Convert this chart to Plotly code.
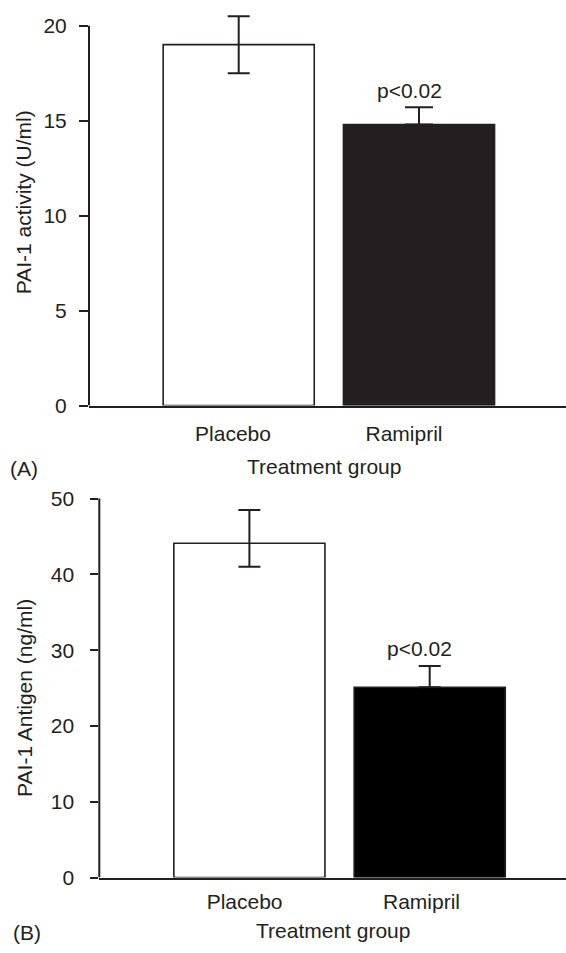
import plotly.graph_objects as go

# ---------------- data ----------------
groups = ["Placebo", "Ramipril"]
activity = [19.0, 14.8]            # PAI-1 activity (U/ml)
activity_err_plus = [1.5, 0.9]
activity_err_minus = [1.5, 0.0]
antigen = [44.1, 25.1]             # PAI-1 Antigen (ng/ml)
antigen_err_plus = [4.4, 2.8]
antigen_err_minus = [3.1, 0.0]
activity_ticks = [0, 5, 10, 15, 20]
antigen_ticks = [0, 10, 20, 30, 40, 50]
p_label = "p<0.02"

# ---------------- style ----------------
W, H = 566, 953
DARK = "#231f20"
FONT = "Liberation Sans, Arial, sans-serif"
FS = 21
bar_fill_A = ["#ffffff", "#231f20"]
bar_fill_B = ["#ffffff", "#000000"]


def fx(p):
    return p / W


def fy(p):
    return 1 - p / H


UNIT = 180.3  # pixels between bar centres

fig = go.Figure()


def add_panel(vals, ep, em, fills, xa, ya, caps):
    for i, g in enumerate(groups):
        fig.add_trace(go.Bar(
            x=[i], y=[vals[i]], width=0.838, name=g,
            marker=dict(color=fills[i], line=dict(color=DARK, width=1.6)),
            error_y=dict(type="data", symmetric=False, array=[ep[i]],
                         arrayminus=[em[i]], color=DARK, thickness=2,
                         width=caps[i]),
            xaxis=xa, yaxis=ya, showlegend=False, hoverinfo="skip"))


add_panel(activity, activity_err_plus, activity_err_minus, bar_fill_A, "x", "y", [11, 14])
add_panel(antigen, antigen_err_plus, antigen_err_minus, bar_fill_B, "x2", "y2", [11, 11])

# axis geometry (pixels)
A_left, A_c0, A_zero, A_top20 = 89.0, 238.7, 408.0, 22.0
B_left, B_c0, B_zero, B_pxu, B_top = 99.3, 249.4, 887.5, 7.7, 495.0
A_pxu = (A_zero - A_top20) / activity_ticks[-1]

tickfont = dict(family=FONT, size=FS, color=DARK)

fig.update_layout(
    width=W, height=H,
    margin=dict(l=0, r=0, t=0, b=0),
    paper_bgcolor="white", plot_bgcolor="white",
    bargap=0,
    xaxis=dict(domain=[fx(A_left), 1],
               range=[(A_left - A_c0) / UNIT, (W - A_c0) / UNIT],
               tickvals=[0 - 5.7 / UNIT, 1 - 15.0 / UNIT], ticktext=groups,
               ticks="", showgrid=False, zeroline=False,
               showline=True, linecolor=DARK, linewidth=2,
               tickfont=tickfont, ticklabelstandoff=8, anchor="y"),
    yaxis=dict(domain=[fy(A_zero), fy(0)],
               range=[0, A_zero / A_pxu],
               tickvals=activity_ticks, ticks="outside", ticklen=9,
               tickwidth=2, tickcolor=DARK, showgrid=False, zeroline=False,
               showline=False, tickfont=tickfont, ticklabelstandoff=8,
               anchor="x"),
    xaxis2=dict(domain=[fx(B_left), 1],
                range=[(B_left - B_c0) / UNIT, (W - B_c0) / UNIT],
                tickvals=[0 - 4.8 / UNIT, 1 - 8.2 / UNIT], ticktext=groups,
                ticks="", showgrid=False, zeroline=False,
                showline=True, linecolor=DARK, linewidth=2.5,
                tickfont=tickfont, ticklabelstandoff=4, anchor="y2"),
    yaxis2=dict(domain=[fy(B_zero), fy(B_top)],
                range=[0, (B_zero - B_top) / B_pxu],
                tickvals=antigen_ticks, ticks="outside", ticklen=8,
                tickwidth=2, tickcolor=DARK, showgrid=False, zeroline=False,
                showline=False, tickfont=tickfont, ticklabelstandoff=12,
                anchor="x2"),
)

# y-axis lines ending at the last tick
fig.add_shape(type="line", xref="x domain", yref="y", x0=0, x1=0,
              y0=activity_ticks[0], y1=activity_ticks[-1],
              line=dict(color=DARK, width=2))
fig.add_shape(type="line", xref="x2 domain", yref="y2", x0=0, x1=0,
              y0=antigen_ticks[0], y1=antigen_ticks[-1],
              line=dict(color=DARK, width=2))

# significance labels
fig.add_annotation(x=1, y=activity[1] + activity_err_plus[1], xref="x", yref="y",
                   text=p_label, showarrow=False, yanchor="bottom",
                   xshift=-10, yshift=3, font=tickfont)
fig.add_annotation(x=1, y=antigen[1] + antigen_err_plus[1], xref="x2", yref="y2",
                   text=p_label, showarrow=False, yanchor="bottom",
                   xshift=-10.7, yshift=4, font=tickfont)

# titles and panel letters
def ann(text, x, y, angle=0):
    fig.add_annotation(x=fx(x), y=fy(y), xref="paper", yref="paper",
                       text=text, showarrow=False, xanchor="center",
                       yanchor="middle", textangle=angle, font=tickfont)


ann("PAI-1 activity (U/ml)", 23, 201.5, -90)
ann("PAI-1 Antigen (ng/ml)", 25, 705, -90)
ann("Treatment group", 324, 470)
ann("Treatment group", 333, 941.7)
ann("(A)", 24.4, 471.7)
ann("(B)", 27, 943)

fig.write_html("out.html",
               config={"displayModeBar": False, "staticPlot": True},
               post_script="document.body.style.margin='0';"
                           "document.body.style.overflow='hidden';")
